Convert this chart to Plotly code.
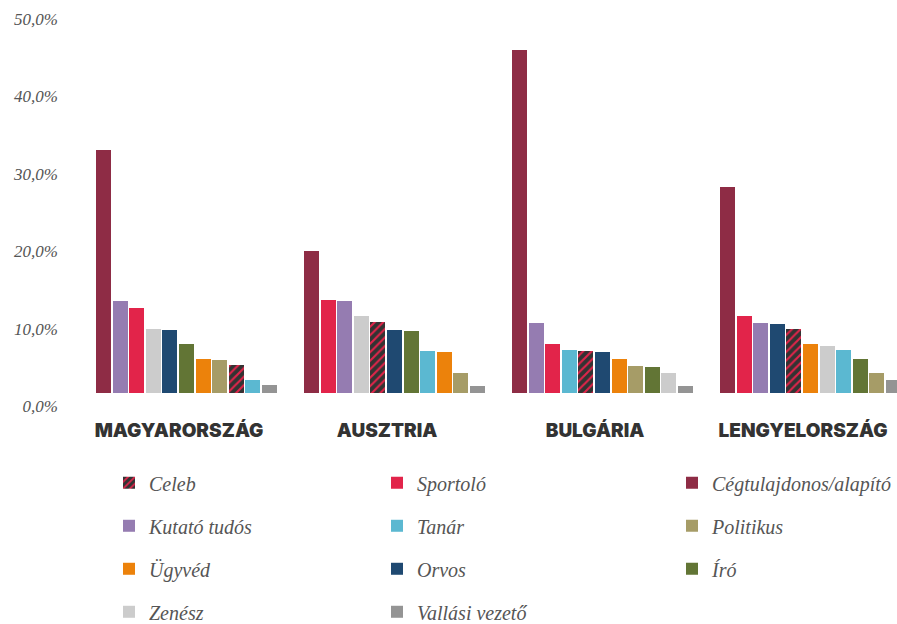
import plotly.graph_objects as go

# ---------------- data ----------------
countries = ["MAGYARORSZÁG", "AUSZTRIA", "BULGÁRIA", "LENGYELORSZÁG"]

professions = ["Celeb", "Sportoló", "Cégtulajdonos/alapító",
               "Kutató tudós", "Tanár", "Politikus",
               "Ügyvéd", "Orvos", "Író",
               "Zenész", "Vallási vezető"]

# values (%) per profession, in the order of `countries`
celeb         = [5.3, 10.9, 7.1, 9.9]
sportolo      = [12.7, 13.7, 8.0, 11.6]
cegtulajdonos = [33.1, 20.0, 46.0, 28.3]
kutato        = [13.6, 13.6, 10.7, 10.7]
tanar         = [3.4, 7.1, 7.2, 7.2]
politikus     = [6.0, 4.3, 5.2, 4.3]
ugyved        = [6.1, 7.0, 6.1, 8.0]
orvos         = [9.8, 9.8, 7.0, 10.6]
iro           = [8.0, 9.7, 5.0, 6.1]
zenesz        = [9.9, 11.6, 4.3, 7.8]
vallasi       = [2.7, 2.6, 2.6, 3.4]

values = [celeb, sportolo, cegtulajdonos, kutato, tanar, politikus,
          ugyved, orvos, iro, zenesz, vallasi]

colors = ["#333333", "#e2244a", "#8e2c45", "#957cb1", "#5bb8d1", "#a69c67",
          "#ec820b", "#1f4971", "#627535", "#cccccc", "#949494"]

y_tick_vals = [0, 10, 20, 30, 40, 50]
y_tick_text = ["0,0%", "10,0%", "20,0%", "30,0%", "40,0%", "50,0%"]

# ---------------- layout constants ----------------
W, H = 897, 624
M_L, M_R, M_T, M_B = 58, 0, 11, 218
PLOT_W = W - M_L - M_R
PLOT_H = H - M_T - M_B
Y_MAX = 51.0
PX_PER_PCT = PLOT_H / Y_MAX
BASE_GAP_PX = 13                      # bars start slightly above the 0 label
BAR_DOMAIN_LOW = BASE_GAP_PX / PLOT_H
BAR_Y_MIN = BASE_GAP_PX / PX_PER_PCT

GROUP_SPAN = 12.53                    # in bar-pitch units
BAR_W = 0.9
PX_PER_UNIT = 16.6
FIRST_CENTER_PX = 103.5
X_RANGE = [(M_L - FIRST_CENTER_PX) / PX_PER_UNIT, (W - FIRST_CENTER_PX) / PX_PER_UNIT]
LABEL_SHIFT = -0.45                   # country labels sit slightly left of group centre

# rank of each profession inside each country (descending value)
ranks = {}
for ci in range(len(countries)):
    order = sorted(range(len(professions)), key=lambda pi: -values[pi][ci])
    for r, pi in enumerate(order):
        ranks[(pi, ci)] = r

fig = go.Figure()
legend_ids = ["legend", "legend2", "legend3"]
for pi, name in enumerate(professions):
    xs = [ci * GROUP_SPAN + ranks[(pi, ci)] for ci in range(len(countries))]
    marker = dict(color=colors[pi], line=dict(width=0))
    if name == "Celeb":
        marker["pattern"] = dict(shape="/", fillmode="replace", bgcolor="#333333",
                                 fgcolor="#e2244a", size=6, solidity=0.35)
    fig.add_trace(go.Bar(
        x=xs, y=values[pi], name=name, width=BAR_W, marker=marker,
        legend=legend_ids[pi % 3], legendgroup=name,
        xaxis="x", yaxis="y", hoverinfo="skip"))

# empty trace that carries the labelled percentage axis
fig.add_trace(go.Scatter(x=[], y=[], xaxis="x", yaxis="y2", showlegend=False,
                         hoverinfo="skip"))

group_centers = [ci * GROUP_SPAN + (len(professions) - 1) / 2 + LABEL_SHIFT
                 for ci in range(len(countries))]

legend_font = dict(family="Liberation Serif", size=20, color="#555555", style="italic")
common_legend = dict(orientation="v", yanchor="top", xanchor="left", font=legend_font,
                     bgcolor="rgba(0,0,0,0)", tracegroupgap=14, y=-0.145)

fig.update_layout(
    width=W, height=H,
    margin=dict(l=M_L, r=M_R, t=M_T, b=M_B, autoexpand=False),
    paper_bgcolor="white", plot_bgcolor="rgba(0,0,0,0)",
    barmode="overlay",
    bargap=0,
    xaxis=dict(range=X_RANGE, domain=[0, 1], anchor="y",
               tickmode="array", tickvals=group_centers, ticktext=countries,
               ticks="outside", ticklen=20, tickcolor="rgba(0,0,0,0)",
               showgrid=False, zeroline=False, showline=False,
               tickfont=dict(family="Inter", size=19, color="#333333", weight=900)),
    yaxis=dict(range=[BAR_Y_MIN, Y_MAX], domain=[BAR_DOMAIN_LOW, 1], anchor="x",
               showticklabels=False, showgrid=False, zeroline=False, showline=False),
    yaxis2=dict(range=[0, Y_MAX], domain=[0, 1], anchor="free", position=0,
                tickmode="array", tickvals=y_tick_vals, ticktext=y_tick_text,
                showgrid=False, zeroline=False, showline=False,
                tickfont=dict(family="Liberation Serif", size=17, color="#555555",
                              style="italic")),
    legend=dict(x=(109 - M_L) / PLOT_W, **common_legend),
    legend2=dict(x=(377 - M_L) / PLOT_W, **common_legend),
    legend3=dict(x=(672 - M_L) / PLOT_W, **common_legend),
    showlegend=True,
)

fig.write_html(
    "out.html",
    config={"displayModeBar": False},
    post_script="document.body.style.margin='0px';document.body.style.overflow='hidden';",
)
